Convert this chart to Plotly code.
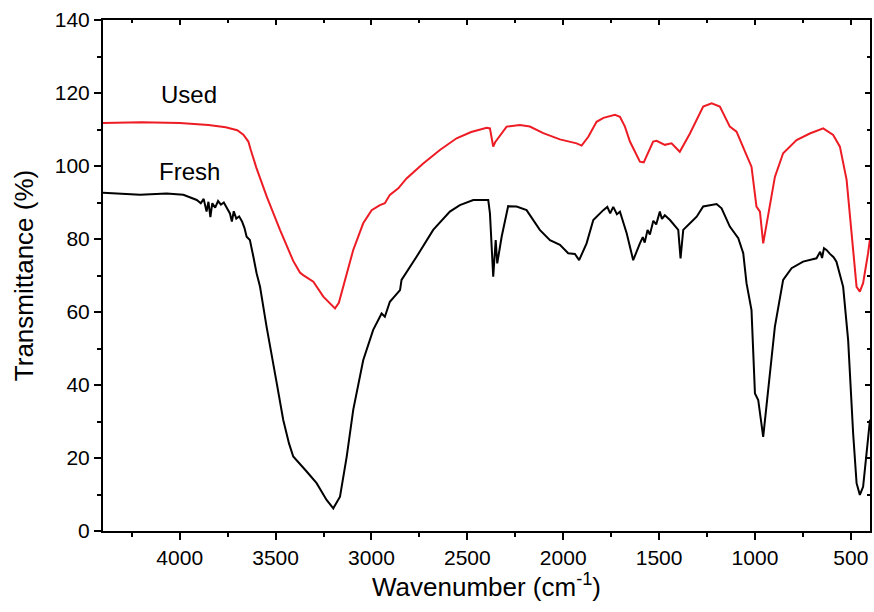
import plotly.graph_objects as go

# FTIR transmittance spectra (wavenumber in cm-1, transmittance in %)
used_wn = [4400, 4200, 4000, 3850, 3760, 3700, 3668, 3642, 3630, 3600, 3546, 3477,
           3408, 3373, 3356, 3303, 3251, 3215, 3190, 3170, 3147, 3095, 3043, 2999,
           2956, 2930, 2904, 2860, 2817, 2730, 2643, 2556, 2480, 2434, 2399, 2382,
           2373, 2365, 2355, 2347, 2330, 2295, 2226, 2174, 2104, 2017, 1930, 1904,
           1869, 1826, 1790, 1757, 1730, 1704, 1678, 1652, 1600, 1580, 1565, 1531,
           1513, 1496, 1470, 1435, 1392, 1339, 1300, 1270, 1226, 1183, 1131, 1096,
           1044, 1018, 992, 974, 957, 931, 896, 853, 783, 714, 644, 592, 557, 522,
           488, 470, 453, 436, 410, 400]
used_t = [111.8, 112.0, 111.8, 111.2, 110.6, 109.8, 108.6, 106.7, 104.5, 99.5, 91.6, 82.5,
          74.0, 70.8, 70.1, 68.3, 64.2, 62.2, 61.0, 62.5, 66.9, 77.0, 84.3, 87.9,
          89.3, 89.8, 92.1, 93.9, 96.6, 100.7, 104.4, 107.6, 109.3, 110.0, 110.5, 110.3,
          108.0, 105.3, 106.5, 107.1, 108.5, 110.8, 111.2, 110.8, 109.0, 107.3, 106.2, 105.6,
          108.0, 112.1, 113.2, 113.7, 114.0, 113.5, 110.8, 106.7, 101.2, 101.0, 102.6, 106.7,
          106.9, 106.5, 105.8, 106.2, 103.9, 108.9, 113.0, 116.3, 117.2, 116.3, 110.8, 109.4,
          103.0, 99.8, 88.9, 87.5, 78.8, 87.0, 97.0, 103.5, 107.1, 108.9, 110.3, 108.5,
          105.3, 96.2, 77.9, 66.9, 65.6, 67.9, 76.1, 80.0]

fresh_wn = [4400, 4300, 4207, 4068, 3981, 3911, 3890, 3875, 3860, 3850, 3840, 3830,
            3815, 3800, 3785, 3770, 3750, 3738, 3728, 3718, 3705, 3690, 3675, 3662,
            3651, 3634, 3616, 3599, 3581, 3547, 3494, 3460, 3430, 3408, 3338, 3286,
            3234, 3199, 3164, 3129, 3095, 3043, 2991, 2947, 2930, 2904, 2851, 2843,
            2764, 2678, 2591, 2539, 2469, 2391, 2382, 2373, 2365, 2352, 2344, 2321,
            2287, 2243, 2191, 2122, 2069, 2017, 1974, 1939, 1917, 1878, 1843, 1791,
            1770, 1755, 1739, 1720, 1704, 1669, 1643, 1635, 1600, 1585, 1575, 1560,
            1548, 1530, 1515, 1496, 1485, 1470, 1443, 1400, 1388, 1374, 1339, 1304,
            1270, 1200, 1174, 1131, 1087, 1061, 1044, 1018, 1000, 983, 957, 931,
            896, 853, 809, 749, 679, 660, 650, 640, 627, 610, 590, 575, 540, 514,
            488, 470, 453, 436, 418, 406, 400]
fresh_t = [92.7, 92.4, 92.1, 92.5, 92.1, 90.7, 89.8, 91.0, 87.5, 90.2, 86.0, 89.8,
           88.6, 90.4, 89.4, 90.0, 88.2, 87.0, 84.8, 87.6, 85.6, 86.2, 84.8, 83.0,
           80.6, 79.7, 75.2, 70.6, 66.9, 56.0, 40.5, 30.4, 24.0, 20.4, 16.3, 13.1,
           8.5, 6.2, 9.4, 20.4, 33.2, 46.8, 55.1, 59.6, 58.7, 62.8, 66.0, 68.8,
           75.2, 82.5, 87.5, 89.3, 90.7, 90.7, 87.0, 77.9, 69.7, 79.7, 73.3, 80.6,
           89.0, 88.9, 87.9, 82.5, 79.7, 78.4, 76.1, 75.9, 74.2, 78.8, 85.2, 87.9,
           88.8, 87.0, 88.8, 86.8, 87.5, 81.6, 76.1, 74.2, 78.8, 80.5, 79.0, 82.5,
           81.2, 85.0, 84.0, 87.5, 85.5, 86.5, 85.2, 82.5, 74.7, 82.5, 84.3, 86.1,
           88.9, 89.6, 88.4, 83.4, 80.2, 76.1, 67.9, 60.5, 37.7, 35.9, 25.8, 39.5,
           56.0, 68.8, 72.0, 73.8, 74.7, 76.5, 74.8, 77.5, 77.0, 76.0, 75.0, 73.8, 66.9, 52.3,
           26.8, 13.1, 9.9, 12.1, 22.2, 29.0, 30.5]

x_range = [4400, 400]
y_range = [0, 140]
x_ticks = [4000, 3500, 3000, 2500, 2000, 1500, 1000, 500]
x_minor = [4250, 3750, 3250, 2750, 2250, 1750, 1250, 750]
y_ticks = [0, 20, 40, 60, 80, 100, 120, 140]

font_family = "Liberation Sans, Arial, sans-serif"

fig = go.Figure()
fig.add_trace(go.Scatter(x=used_wn, y=used_t, mode="lines", name="Used",
                         line=dict(color="#ed1c24", width=2)))
fig.add_trace(go.Scatter(x=fresh_wn, y=fresh_t, mode="lines", name="Fresh",
                         line=dict(color="#000000", width=2)))
# invisible trace that carries the mirrored top/right axes
fig.add_trace(go.Scatter(x=[x_range[0]], y=[y_range[0]], xaxis="x2", yaxis="y2",
                         mode="markers", marker=dict(opacity=0), showlegend=False,
                         hoverinfo="skip"))

common = dict(showgrid=False, zeroline=False, showline=True, linecolor="black",
              linewidth=2, tickcolor="black", tickwidth=2)

fig.update_layout(
    width=874, height=612,
    margin=dict(l=103, r=4, t=20, b=81),
    paper_bgcolor="white", plot_bgcolor="white",
    showlegend=False,
    font=dict(family=font_family, color="black"),
    xaxis=dict(range=x_range, tickvals=x_ticks, ticks="outside", ticklen=7,
               tickfont=dict(size=21),
               minor=dict(tickvals=x_minor, ticks="outside", ticklen=4, tickwidth=2,
                          tickcolor="black"),
               title=dict(text="Wavenumber (cm<sup>-1</sup>)", font=dict(size=26),
                          standoff=5),
               **common),
    yaxis=dict(range=y_range, tickvals=y_ticks, ticks="outside", ticklen=7,
               tickfont=dict(size=21),
               minor=dict(dtick=10, ticks="outside", ticklen=4, tickwidth=2,
                          tickcolor="black"),
               title=dict(text="Transmittance (%)", font=dict(size=26), standoff=14),
               **common),
    xaxis2=dict(range=x_range, overlaying="x", side="top", anchor="y2",
                tickvals=x_ticks, ticks="inside", ticklen=5, showticklabels=False,
                minor=dict(tickvals=x_minor, ticks="inside", ticklen=3, tickwidth=2,
                           tickcolor="black"),
                **common),
    yaxis2=dict(range=y_range, overlaying="y", side="right", anchor="x2",
                tickvals=y_ticks, ticks="inside", ticklen=5, showticklabels=False,
                minor=dict(dtick=10, ticks="inside", ticklen=3, tickwidth=2,
                           tickcolor="black"),
                **common),
    annotations=[
        dict(x=4110, y=119.5, text="Used", showarrow=False, xanchor="left",
             yanchor="middle", font=dict(size=24, color="black")),
        dict(x=4120, y=98.4, text="Fresh", showarrow=False, xanchor="left",
             yanchor="middle", font=dict(size=24, color="black")),
    ],
)

fig.write_html("out.html")
